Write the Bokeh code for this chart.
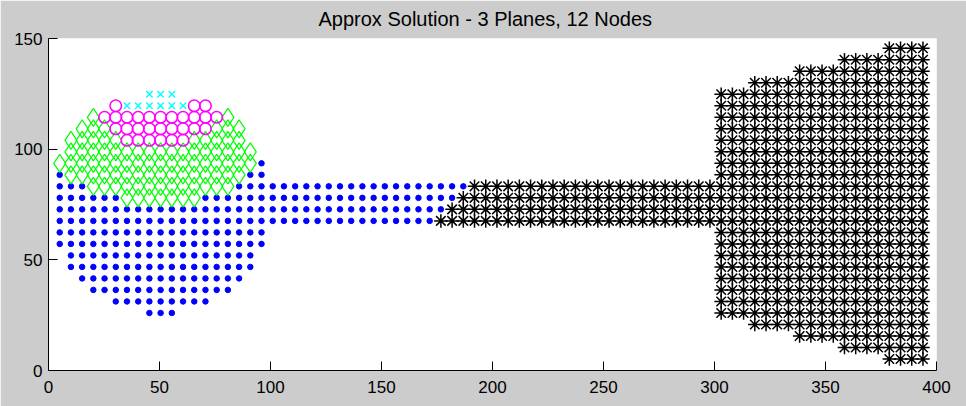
from bokeh.plotting import figure
from bokeh.models import FixedTicker, Range1d
from bokeh.embed import file_html
from bokeh.resources import INLINE

# node grid spacing (data units)
DX = 5.05
DY = 5.2

# each row: (row index j, first column index, last column index)
blue_rows = [(5, 9, 11), (6, 6, 14), (7, 4, 16), (8, 3, 17), (9, 2, 18), (10, 2, 18),
             (11, 1, 19), (12, 1, 19), (13, 1, 34), (14, 1, 35), (15, 1, 6), (15, 14, 36),
             (16, 1, 3), (16, 17, 37), (17, 1, 1), (17, 18, 19), (18, 19, 19)]
green_rows = [(15, 7, 13), (16, 4, 16), (17, 2, 17), (18, 1, 18), (19, 2, 18),
              (20, 2, 6), (20, 13, 17), (21, 3, 5), (21, 15, 17), (22, 4, 4), (22, 16, 16)]
magenta_rows = [(20, 7, 12), (21, 6, 14), (22, 5, 15), (23, 6, 6), (23, 13, 14)]
cyan_rows = [(23, 7, 12), (24, 9, 11)]
black_rows = [(1, 75, 78), (2, 71, 78), (3, 67, 78), (4, 63, 78),
              (5, 60, 78), (6, 60, 78), (7, 60, 78), (8, 60, 78), (9, 60, 78),
              (10, 60, 78), (11, 60, 78), (12, 60, 78),
              (13, 35, 78), (14, 36, 78), (15, 37, 78), (16, 38, 78),
              (17, 60, 78), (18, 60, 78), (19, 60, 78), (20, 60, 78), (21, 60, 78),
              (22, 60, 78), (23, 60, 78), (24, 60, 78),
              (25, 63, 78), (26, 67, 78), (27, 71, 78), (28, 75, 78)]

x_ticks = [0, 50, 100, 150, 200, 250, 300, 350, 400]
y_ticks = [0, 50, 100, 150]
title_text = "Approx Solution - 3 Planes, 12 Nodes"


def expand(rows):
    xs, ys = [], []
    for j, a, b in rows:
        for i in range(a, b + 1):
            xs.append(i * DX)
            ys.append(j * DY)
    return xs, ys


p = figure(width=966, height=406, x_range=Range1d(0, 400), y_range=Range1d(0, 150),
           output_backend="svg", toolbar_location=None,
           min_border_left=48, min_border_right=30, min_border_top=38, min_border_bottom=36,
           background_fill_color="white", border_fill_color="#cccccc")

p.title.text = title_text
p.title.align = "left"
p.title.offset = 270
p.title.text_font = "Liberation Sans"
p.title.text_font_size = "20px"
p.title.text_font_style = "normal"
p.title.text_color = "black"
p.title.vertical_align = "top"
p.title.standoff = 14

p.outline_line_color = None
p.grid.visible = False

for ax in (p.xaxis[0], p.yaxis[0]):
    ax.major_tick_in = 9
    ax.major_tick_out = 0
    ax.minor_tick_line_color = None
    ax.axis_line_color = "black"
    ax.major_tick_line_color = "black"
    ax.major_label_text_font = "Liberation Sans"
    ax.major_label_text_font_size = "17px"
    ax.major_label_text_color = "black"
p.xaxis.major_label_standoff = 10
p.yaxis.major_label_standoff = 6
p.xaxis.ticker = FixedTicker(ticks=x_ticks)
p.yaxis.ticker = FixedTicker(ticks=y_ticks)

bx, by = expand(blue_rows)
p.scatter(bx, by, marker="circle", size=5.5, fill_color="#0000ff", line_color="#0000ff")

gx, gy = expand(green_rows)
p.scatter(gx, gy, marker="diamond", size=18, fill_color=None, line_color="#00ff00", line_width=1.2)

mx, my = expand(magenta_rows)
p.scatter(mx, my, marker="circle", size=11.5, fill_color=None, line_color="#ff00ff", line_width=1.6)

cx, cy = expand(cyan_rows)
p.scatter(cx, cy, marker="x", size=9, line_color="#00ffff", line_width=1.4)

kx, ky = expand(black_rows)
p.scatter(kx, ky, marker="asterisk", size=13.5, line_color="black", line_width=1.5)

open("out.html", "w").write(file_html(p, INLINE))
